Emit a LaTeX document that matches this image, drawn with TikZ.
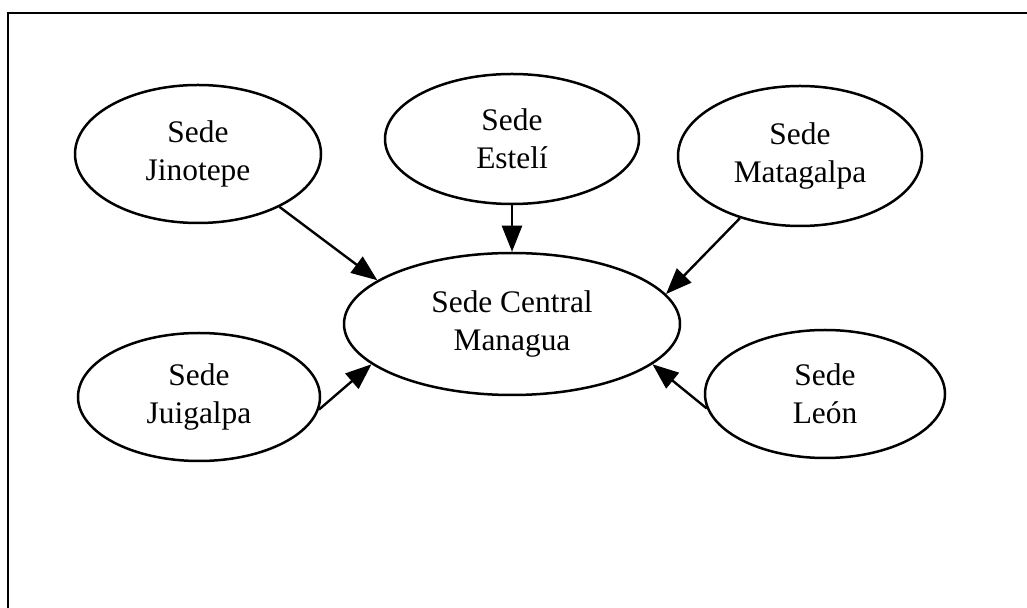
\documentclass[tikz,border=0pt]{standalone}
\usepackage{fontspec}
\setmainfont{Liberation Serif}
\usetikzlibrary{shapes.geometric,arrows.meta}

\begin{document}
\begin{tikzpicture}[
  x=0.5pt, y=-0.5pt,
  font=\fontsize{15.7pt}{18.8pt}\selectfont,
  sede/.style={draw, ellipse, line width=1.25pt, align=center, inner sep=0pt,
    minimum width=122pt, minimum height=64pt},
  arr/.style={-{Triangle[length=13pt, width=10pt]}, line width=1.2pt}
]
\useasboundingbox (0,0) rectangle (1027,608);
\draw[line width=1.3pt] (8,608) -- (8,13) -- (1027,13);
\node[sede, minimum width=168pt, minimum height=71pt] (central) at (512,324)
  {Sede Central\\Managua};
\node[sede, minimum width=123pt, minimum height=69pt] (jinotepe) at (198,154) {Sede\\Jinotepe};
\node[sede, minimum width=127pt, minimum height=65pt] (esteli) at (512,139) {Sede\\Estelí};
\node[sede, minimum width=122pt, minimum height=70pt] (matagalpa) at (800,156) {Sede\\Matagalpa};
\node[sede, minimum width=121pt] (juigalpa) at (199,397) {Sede\\Juigalpa};
\node[sede, minimum width=120pt] (leon) at (825,394) {Sede\\León};
\draw[arr] (jinotepe.-33) -- (central.162.2);
\draw[arr] (esteli.south) -- (central.north);
\draw[arr] (matagalpa.226.3) -- (central.11.8);
\draw[arr] (juigalpa.-6.9) -- (central.196);
\draw[arr] (leon.187.6) -- (central.-16.3);
\end{tikzpicture}
\end{document}
